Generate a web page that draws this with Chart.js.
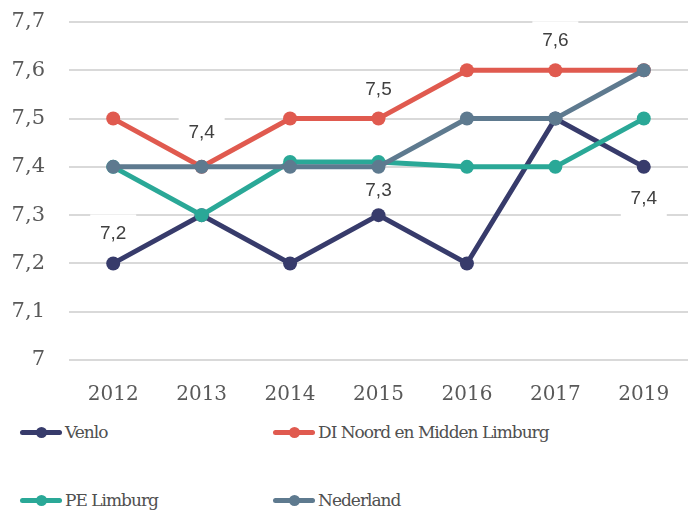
<!DOCTYPE html>
<html>
<head>
<meta charset="utf-8">
<script src="https://cdn.jsdelivr.net/npm/chart.js@4.4.0/dist/chart.umd.min.js"></script>
<style>
  body { margin: 0; background: #fff; }
  #wrap { position: relative; width: 695px; height: 513px; }
  #box { position: absolute; left: 0; top: 0; width: 695px; height: 415px; }
  .leg { position: absolute; display: flex; align-items: center; font-family: "DejaVu Serif", serif; font-size: 17px; letter-spacing: -1px; color: #505050; white-space: nowrap; }
  .mk { position: relative; width: 42px; height: 5px; border-radius: 3px; margin-right: 3px; }
  .mk span { position: absolute; left: 16px; top: -3px; width: 11px; height: 11px; border-radius: 50%; background: inherit; }
</style>
</head>
<body>
<div id="wrap">
  <div id="box"><canvas id="myChart" width="695" height="415"></canvas></div>
  <div id="legenda"></div>
</div>
<script>
// jaren en waarden
const jaren = ['2012', '2013', '2014', '2015', '2016', '2017', '2019'];
const venlo = [7.2, 7.3, 7.2, 7.3, 7.2, 7.5, 7.4];
const diNoord = [7.5, 7.4, 7.5, 7.5, 7.6, 7.6, 7.6];
const peLimburg = [7.4, 7.3, 7.41, 7.41, 7.4, 7.4, 7.5];
const nederland = [7.4, 7.4, 7.4, 7.4, 7.5, 7.5, 7.6];
const yTicks = [7, 7.1, 7.2, 7.3, 7.4, 7.5, 7.6, 7.7];

// welke punten een label krijgen: [reeks, punt]
const labelPunten = [[0, 0], [0, 3], [0, 6], [1, 1], [1, 3], [1, 5]];
// verschuiving van elk label t.o.v. het punt (px)
const labelOffset = [-31, -25.5, 31, -35, -29.5, -31];

const kleuren = ['#373b6b', '#e05a4f', '#2aa897', '#5e7a8f'];
const namen = ['Venlo', 'DI Noord en Midden Limburg', 'PE Limburg', 'Nederland'];
const reeksen = [venlo, diNoord, peLimburg, nederland];
const volgorde = [3, 2, 1, 0];

const fmt = v => Number.isInteger(v) ? String(v) : v.toFixed(1).replace('.', ',');

function labelPos(chart, n) {
  const [d, i] = labelPunten[n];
  const el = chart.getDatasetMeta(d).data[i];
  return { x: el.x, y: el.y + labelOffset[n], tekst: fmt(reeksen[d][i]) };
}

const labelPlugin = {
  id: 'labels',
  beforeDatasetsDraw(chart) {
    // witte vlakjes achter de labels (over de rasterlijnen)
    const ctx = chart.ctx;
    ctx.save();
    ctx.fillStyle = '#fff';
    labelPunten.forEach((p, n) => {
      const l = labelPos(chart, n);
      ctx.fillRect(l.x - 23, l.y - 18, 46, 37);
    });
    ctx.restore();
  },
  afterDatasetsDraw(chart) {
    const ctx = chart.ctx;
    ctx.save();
    ctx.font = '19px "Liberation Sans", Arial, sans-serif';
    ctx.textAlign = 'center';
    ctx.textBaseline = 'middle';
    ctx.fillStyle = '#404040';
    labelPunten.forEach((p, n) => {
      const l = labelPos(chart, n);
      ctx.fillText(l.tekst, l.x, l.y + 1);
    });
    ctx.restore();
  }
};

const ctx = document.getElementById('myChart');
new Chart(ctx, {
  type: 'line',
  data: {
    labels: jaren,
    datasets: reeksen.map((r, k) => ({
      label: namen[k],
      data: r,
      borderColor: kleuren[k],
      backgroundColor: kleuren[k],
      borderWidth: 5,
      pointRadius: 7,
      pointHoverRadius: 7,
      pointBorderWidth: 0,
      tension: 0,
      order: volgorde[k]
    }))
  },
  options: {
    responsive: false,
    animation: false,
    layout: { padding: { top: 22, right: 7, left: 0, bottom: 0 } },
    plugins: { legend: { display: false }, tooltip: { enabled: false } },
    scales: {
      x: {
        offset: true,
        grid: { display: false },
        border: { display: false },
        ticks: { padding: 15, color: '#595959', font: { family: '"DejaVu Serif", serif', size: 20 } },
        afterFit: s => { s.height = 55; s.paddingLeft = 0; s.paddingRight = 0; }
      },
      y: {
        min: 7, max: 7.7,
        afterBuildTicks: s => { s.ticks = yTicks.map(v => ({ value: v })); },
        grid: { color: '#d9d9d9', lineWidth: 2, drawTicks: false },
        border: { display: false },
        ticks: { padding: 24, color: '#595959', font: { family: '"DejaVu Serif", serif', size: 21 }, callback: v => fmt(v) },
        afterFit: s => { s.width = 69; s.paddingTop = 0; s.paddingBottom = 0; }
      }
    }
  },
  plugins: [labelPlugin]
});

// legenda
const leg = document.getElementById('legenda');
const posities = [[20, 432], [273, 432], [20, 500], [273, 500]];
namen.forEach((n, k) => {
  const d = document.createElement('div');
  d.className = 'leg';
  d.style.left = posities[k][0] + 'px';
  d.style.top = (posities[k][1] - 12) + 'px';
  d.style.height = '24px';
  d.innerHTML = '<div class="mk" style="background:' + kleuren[k] + '"><span></span></div>' + n;
  leg.appendChild(d);
});
</script>
</body>
</html>
